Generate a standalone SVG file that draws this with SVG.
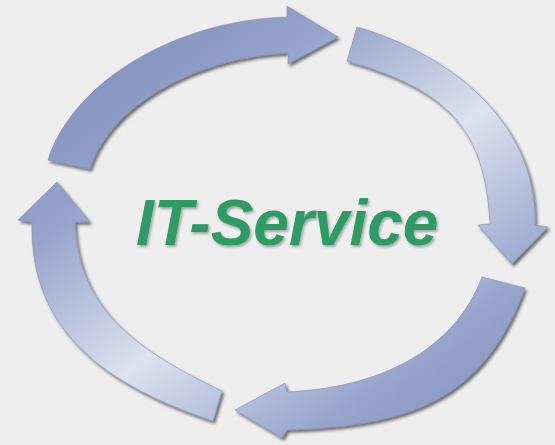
<svg xmlns="http://www.w3.org/2000/svg" width="555" height="445" viewBox="0 0 555 445">
  <defs>
    <linearGradient id="ringGrad" gradientUnits="userSpaceOnUse" x1="147" y1="37" x2="453" y2="453">
      <stop offset="0" stop-color="#8594c1"/>
      <stop offset="0.2" stop-color="#97a5cc"/>
      <stop offset="0.5" stop-color="#dce1ee"/>
      <stop offset="0.8" stop-color="#98a6cd"/>
      <stop offset="1" stop-color="#8493c0"/>
    </linearGradient>
    <filter id="shadow" x="-10%" y="-10%" width="130%" height="130%">
      <feDropShadow dx="2" dy="2.5" stdDeviation="1.6" flood-color="#000" flood-opacity="0.55"/>
    </filter>
    <filter id="textShadow" x="-5%" y="-10%" width="110%" height="130%">
      <feDropShadow dx="1.5" dy="2" stdDeviation="1.2" flood-color="#000" flood-opacity="0.3"/>
    </filter>
  </defs>
  <style>
    .arrow { fill: url(#ringGrad); stroke: #7f8cb3; stroke-width: 0.6; filter: url(#shadow); }
    .label { font-family: "Liberation Sans", Arial, sans-serif; font-weight: bold; font-style: italic; font-size: 64px; fill: #2f9b65; filter: url(#textShadow); }
  </style>
  <rect width="555" height="445" fill="#eeeeee"/>
  <g id="connectors">
    <path id="arrow-top" class="arrow" d="M48,160 C72,84 172,20.5 287,17 L287,6 L338,37 L288,64 L288,53 C193,57.75 109.5,107 90,169 Z"/>
    <path id="arrow-right" class="arrow" d="M357,27 C453,55 538,125 535,225 L548,227 L512,264 L478,225 L490,224 C485,124 443,89 347,61 Z"/>
    <path id="arrow-bottom" class="arrow" d="M525,288 C485,396 417,426 287,430 L282,438 L235,410 L285,383 L287,392 C377,388 454,352 482,277 Z"/>
    <path id="arrow-left" class="arrow" d="M213,421 C108,386 29,332 32,222 L18,220 L57,182 L90,222 L75,222 C78,312 141,352 222,391 Z"/>
  </g>
  <g id="it-service">
    <text class="label" x="136" y="245">IT-Service</text>
  </g>
</svg>
